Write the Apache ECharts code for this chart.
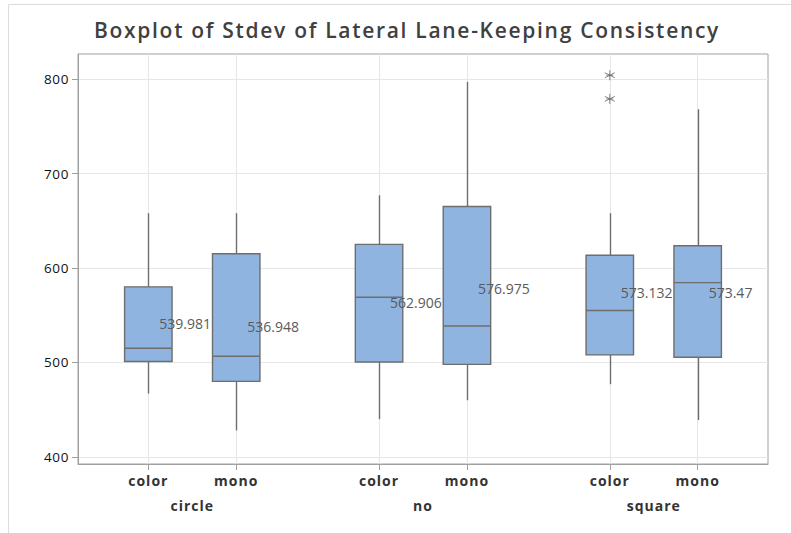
<!DOCTYPE html>
<html><head><meta charset="utf-8">
<script src="https://cdn.jsdelivr.net/npm/echarts@6/dist/echarts.min.js"></script>
<style>
html,body{margin:0;padding:0;background:#fff}#c{width:791px;height:533px}
#c text[style*="21px"]{letter-spacing:1.7px}
#c text[style*="bold"]{letter-spacing:1px}
#c text[style*="13.5px"]{letter-spacing:0.6px}
</style>
</head><body><div id="c"></div>
<script>
var groups = ['circle', 'no', 'square'];
var subgroups = ['color', 'mono', 'color', 'mono', 'color', 'mono'];
var positions = [0, 1, 2.625, 3.625, 5.25, 6.25];
var groupPositions = [0.5, 3.125, 5.75];
var whiskerLow = [467, 428, 440, 460, 477, 439];
var q1 = [501, 480, 500.5, 498, 508, 505.5];
var median = [515, 506.5, 569, 538.5, 555, 584.5];
var q3 = [580, 615, 625, 665, 613.5, 623.5];
var whiskerHigh = [658, 658, 677, 797, 658, 768];
var means = [539.981, 536.948, 562.906, 576.975, 573.132, 573.47];
var outlierBox = [4, 4];
var outlierValues = [804, 779];
var yTicks = [400, 500, 600, 700, 800];

var boxData = positions.map(function (p, i) {
  return [p, whiskerLow[i], q1[i], median[i], q3[i], whiskerHigh[i], means[i]];
});
var outlierData = outlierValues.map(function (v, i) { return [positions[outlierBox[i]], v]; });

function nearestName(v, pos, names) {
  var best = 0;
  for (var i = 1; i < pos.length; i++) if (Math.abs(pos[i] - v) < Math.abs(pos[best] - v)) best = i;
  return Math.abs(pos[best] - v) < 0.05 ? names[best] : '';
}

var BOX_W = 0.54;
var boxColor = '#8fb4df', edge = '#6e6e6e';

var chart = echarts.init(document.getElementById('c'), null, {renderer: 'svg'});
chart.setOption({
  animation: false,
  backgroundColor: '#fff',
  graphic: [{type: 'rect', shape: {x: 8.5, y: 4.5, width: 900, height: 700}, style: {fill: 'none', stroke: '#dcdcdc', lineWidth: 1}, silent: true, z: -10}],
  title: {
    text: 'Boxplot of Stdev of Lateral Lane-Keeping Consistency',
    left: 402, top: 14, textAlign: 'center',
    textStyle: {fontFamily: 'Open Sans', fontWeight: 600, fontSize: 21, color: '#404040'}
  },
  grid: {left: 78, top: 54, width: 690, height: 410, show: true, borderColor: '#a0a0a0', borderWidth: 1, backgroundColor: '#fff'},
  xAxis: [{
    type: 'value', min: -0.8, max: 7.05, position: 'bottom',
    axisLine: {show: true, onZero: false, lineStyle: {color: '#a0a0a0'}},
    axisTick: {show: true, length: 6, customValues: positions, lineStyle: {color: '#a0a0a0'}},
    splitLine: {show: true, customValues: positions, lineStyle: {color: '#e6e6e6'}},
    axisLabel: {customValues: positions, margin: 9, fontFamily: 'Open Sans', fontWeight: 'bold', fontSize: 14, color: '#333',
      formatter: function (v) { return nearestName(v, positions, subgroups); }}
  }, {
    type: 'value', min: -0.8, max: 7.05, position: 'bottom', gridIndex: 0,
    axisLine: {show: false, onZero: false}, axisTick: {show: false}, splitLine: {show: false},
    axisLabel: {customValues: groupPositions, margin: 34, fontFamily: 'Open Sans', fontWeight: 'bold', fontSize: 14, color: '#333',
      formatter: function (v) { return nearestName(v, groupPositions, groups); }}
  }],
  yAxis: {
    type: 'value', min: 392.5, max: 826.5,
    axisLine: {show: true, onZero: false, lineStyle: {color: '#a0a0a0'}},
    axisTick: {show: true, length: 6, customValues: yTicks, lineStyle: {color: '#a0a0a0'}},
    splitLine: {show: true, customValues: yTicks, lineStyle: {color: '#e6e6e6'}},
    axisLabel: {customValues: yTicks, margin: 9, fontFamily: 'Open Sans', fontWeight: 500, fontSize: 13.5, color: '#111'}
  },
  series: [{
    type: 'custom',
    xAxisIndex: 0,
    clip: false,
    data: boxData,
    renderItem: function (params, api) {
      var x = api.value(0);
      var pLow = api.coord([x, api.value(1)]);
      var pQ1 = api.coord([x, api.value(2)]);
      var pMed = api.coord([x, api.value(3)]);
      var pQ3 = api.coord([x, api.value(4)]);
      var pHigh = api.coord([x, api.value(5)]);
      var pMean = api.coord([x, api.value(6)]);
      var left = api.coord([x - BOX_W / 2, 0])[0];
      var right = api.coord([x + BOX_W / 2, 0])[0];
      var cx = Math.round(pLow[0]) + 0.5;
      var ls = {stroke: edge, lineWidth: 1.4};
      return {type: 'group', children: [
        {type: 'line', shape: {x1: cx, y1: pQ1[1], x2: cx, y2: pLow[1]}, style: ls},
        {type: 'line', shape: {x1: cx, y1: pQ3[1], x2: cx, y2: pHigh[1]}, style: ls},
        {type: 'rect', shape: {x: left, y: pQ3[1], width: right - left, height: pQ1[1] - pQ3[1]}, style: {fill: boxColor, stroke: edge, lineWidth: 1.4}},
        {type: 'line', shape: {x1: left, y1: pMed[1], x2: right, y2: pMed[1]}, style: ls},
        {type: 'text', x: pMean[0] + 11, y: pMean[1] - 1, style: {text: String(api.value(6)), fill: '#5a5a5a', font: '14px "Open Sans"', textAlign: 'left', textVerticalAlign: 'middle'}}
      ]};
    }
  }, {
    type: 'scatter',
    data: outlierData,
    symbol: 'path://M0,-5L0,5M-4.33,-2.5L4.33,2.5M-4.33,2.5L4.33,-2.5M-3,0L3,0',
    symbolSize: 10,
    itemStyle: {color: 'none', borderColor: '#666', borderWidth: 1}
  }]
});
</script>
</body></html>
